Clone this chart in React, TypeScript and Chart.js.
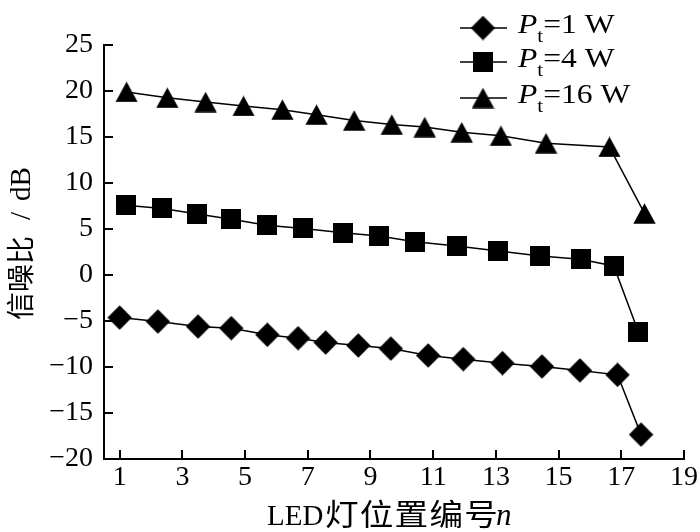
import React, { useEffect, useRef } from "react";
import { Chart, registerables } from "chart.js";

Chart.register(...registerables);

// ---- data ----
const powerLabels = ["1", "4", "16"];
const pos1W = [1.0, 2.22, 3.5, 4.56, 5.71, 6.69, 7.57, 8.61, 9.65, 10.84, 11.96, 13.21, 14.47, 15.68, 16.88, 17.63];
const snr1W = [-4.63, -5.06, -5.6, -5.78, -6.5, -6.87, -7.34, -7.66, -8.0, -8.75, -9.15, -9.58, -9.94, -10.37, -10.85, -17.35];
const pos4W = [1.19, 2.36, 3.48, 4.56, 5.69, 6.85, 8.12, 9.27, 10.42, 11.75, 13.08, 14.42, 15.7, 16.76, 17.54];
const snr4W = [7.59, 7.23, 6.62, 6.07, 5.42, 5.06, 4.59, 4.23, 3.62, 3.15, 2.6, 2.06, 1.7, 0.98, -6.15];
const pos16W = [1.22, 2.52, 3.74, 4.95, 6.19, 7.28, 8.48, 9.68, 10.73, 11.91, 13.16, 14.6, 16.62, 17.74];
const snr16W = [19.9, 19.27, 18.8, 18.37, 17.97, 17.43, 16.8, 16.35, 16.08, 15.51, 15.13, 14.32, 13.92, 6.69];
const xTicks = [1, 3, 5, 7, 9, 11, 13, 15, 17, 19];
const yTicks = [-20, -15, -10, -5, 0, 5, 10, 15, 20, 25];
const xTitleLatin = "LED";
const xTitleCJK = "灯位置编号";
const xTitleVar = "n";
const yTitleCJK = "信噪比";
const yTitleSep = "/";
const yTitleUnit = "dB";

const SERIF = "'Liberation Serif', 'Noto Sans CJK SC', serif";
const CJK = "'Noto Sans CJK SC', 'Liberation Serif', sans-serif";

function makeMarker(kind: string): HTMLCanvasElement {
  const c = document.createElement("canvas");
  const ctx = c.getContext("2d")!;
  if (kind === "diamond") {
    c.width = 25; c.height = 25;
    ctx.fillStyle = "#000";
    ctx.beginPath();
    ctx.moveTo(12.5, 0.3); ctx.lineTo(24.7, 12.5); ctx.lineTo(12.5, 24.7); ctx.lineTo(0.3, 12.5);
    ctx.closePath(); ctx.fill();
  } else if (kind === "square") {
    c.width = 20; c.height = 20;
    ctx.fillStyle = "#000";
    ctx.fillRect(0, 0, 20, 20);
  } else {
    c.width = 23; c.height = 21;
    ctx.fillStyle = "#000";
    ctx.beginPath();
    ctx.moveTo(11.5, 0.3); ctx.lineTo(22.7, 20.7); ctx.lineTo(0.3, 20.7);
    ctx.closePath(); ctx.fill();
  }
  return c;
}

export default function App() {
  const ref = useRef<HTMLCanvasElement | null>(null);
  useEffect(() => {
    if (!ref.current) return;
    const markers = [makeMarker("diamond"), makeMarker("square"), makeMarker("triangle")];
    const toPts = (xs: number[], ys: number[]) => xs.map((x, i) => ({ x, y: ys[i] }));
    const series = [toPts(pos1W, snr1W), toPts(pos4W, snr4W), toPts(pos16W, snr16W)];

    const decor = {
      id: "decor",
      afterDraw(chart: any) {
        const ctx = chart.ctx as CanvasRenderingContext2D;
        const xs = chart.scales.x;
        const ys = chart.scales.y;
        const { left, right, bottom, top } = chart.chartArea;
        ctx.save();
        ctx.strokeStyle = "#000";
        ctx.lineWidth = 2;
        // inward tick marks
        xTicks.forEach((v) => {
          const px = Math.round(xs.getPixelForValue(v));
          ctx.beginPath(); ctx.moveTo(px, bottom); ctx.lineTo(px, bottom - 9); ctx.stroke();
        });
        yTicks.forEach((v) => {
          if (v === yTicks[0]) return;
          const py = Math.round(ys.getPixelForValue(v));
          ctx.beginPath(); ctx.moveTo(left, py); ctx.lineTo(left + 9, py); ctx.stroke();
        });
        ctx.fillStyle = "#000";
        ctx.textAlign = "left";
        ctx.textBaseline = "alphabetic";

        // x title: LED + CJK + italic n
        const cx = (left + right) / 2;
        const tx0 = cx - 127;
        const baseX = bottom + 66;
        ctx.font = `29px ${SERIF}`;
        ctx.fillText(xTitleLatin, tx0, baseX);
        const cjkStart = tx0 + 58;
        const chars = Array.from(xTitleCJK);
        const adv = 34.8;
        chars.forEach((ch, k) => {
          ctx.save();
          ctx.translate(cjkStart + k * adv, baseX);
          ctx.scale(1.12, 1);
          ctx.font = `30px ${CJK}`;
          ctx.fillText(ch, 0, 0);
          ctx.restore();
        });
        ctx.font = `italic 31px ${SERIF}`;
        ctx.fillText(xTitleVar, cjkStart + chars.length * adv - 3, baseX);

        // y title (rotated)
        ctx.save();
        const midY = (top + bottom) / 2;
        ctx.translate(31, midY + 68);
        ctx.rotate(-Math.PI / 2);
        ctx.font = `28px ${CJK}`;
        ctx.fillText(yTitleCJK, 0, 0);
        ctx.font = `29px ${SERIF}`;
        ctx.textAlign = "center";
        ctx.fillText(yTitleSep, 104, -1);
        ctx.textAlign = "left";
        ctx.fillText(yTitleUnit, 119, -1);
        ctx.restore();

        // legend
        const rowY = [28, 62, 98];
        ctx.lineWidth = 1.5;
        rowY.forEach((y, i) => {
          ctx.beginPath(); ctx.moveTo(460, y); ctx.lineTo(507, y); ctx.stroke();
          const m = markers[i];
          ctx.drawImage(m, 483 - m.width / 2, y - m.height / 2);
          const base = y + 5;
          ctx.save();
          ctx.translate(518, base);
          ctx.scale(1.17, 1);
          let tx = 0;
          ctx.textAlign = "left";
          ctx.textBaseline = "alphabetic";
          ctx.font = `italic 27px ${SERIF}`;
          ctx.fillText("P", tx, 0);
          tx += ctx.measureText("P").width;
          ctx.font = `18px ${SERIF}`;
          ctx.fillText("t", tx, 9);
          tx += ctx.measureText("t").width;
          ctx.font = `27px ${SERIF}`;
          ctx.fillText("=" + powerLabels[i] + " W", tx, 0);
          ctx.restore();
        });
        ctx.restore();
      },
    };

    const chart = new Chart(ref.current, {
      type: "scatter",
      data: {
        datasets: series.map((pts, i) => ({
          label: "Pt=" + powerLabels[i] + " W",
          data: pts,
          showLine: true,
          borderColor: "#000",
          backgroundColor: "#000",
          borderWidth: 1.5,
          pointStyle: markers[i] as any,
          pointRadius: 10,
          clip: false as any,
        })),
      },
      options: {
        animation: false,
        responsive: false,
        maintainAspectRatio: false,
        events: [],
        layout: { padding: { top: 45, right: 16, left: 0, bottom: 0 } },
        plugins: { legend: { display: false }, tooltip: { enabled: false }, title: { display: false } },
        scales: {
          x: {
            type: "linear",
            min: 0.5,
            max: 19,
            afterBuildTicks: (s: any) => { s.ticks = xTicks.map((v) => ({ value: v })); },
            afterFit: (s: any) => { s.height = 73; },
            grid: { display: false, drawTicks: false },
            border: { display: true, color: "#000", width: 2 },
            ticks: { color: "#000", font: { family: SERIF, size: 28 }, padding: 2, maxRotation: 0, autoSkip: false },
          },
          y: {
            type: "linear",
            min: -20,
            max: 25,
            afterBuildTicks: (s: any) => { s.ticks = yTicks.map((v) => ({ value: v })); },
            afterFit: (s: any) => { s.width = 104; },
            grid: { display: false, drawTicks: false },
            border: { display: true, color: "#000", width: 2 },
            ticks: {
              color: "#000",
              font: { family: SERIF, size: 28 },
              padding: 11,
              autoSkip: false,
              callback: (v: any) => (v < 0 ? "\u2212" + Math.abs(v) : String(v)),
            },
          },
        },
      },
      plugins: [decor],
    });
    return () => chart.destroy();
  }, []);

  return (
    <div style={{ position: "fixed", left: 0, top: 0, width: 700, height: 532, background: "#fff" }}>
      <canvas ref={ref} width={700} height={532} style={{ width: 700, height: 532, display: "block" }} />
    </div>
  );
}
